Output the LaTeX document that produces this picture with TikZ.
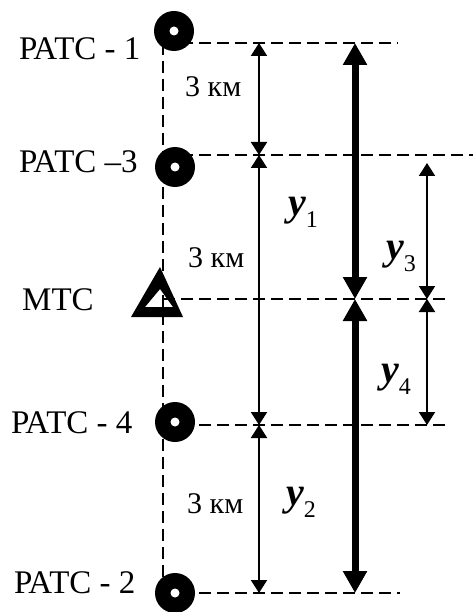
\documentclass[tikz,border=0pt]{standalone}
\usepackage{fontspec}
\setmainfont{Liberation Serif}
\usetikzlibrary{arrows.meta,calc}
\tikzset{
  ratc/.style={
    circle, fill=black, minimum size=40pt, inner sep=0pt,
    path picture={\fill[white] (path picture bounding box.center) circle (4.5pt);}
  },
  guide/.style={line width=2pt, dash pattern=on 12pt off 6pt},
  station/.style={font=\fontsize{33}{33}\selectfont, inner sep=0pt, anchor=base west},
  dist/.style={font=\fontsize{30}{30}\selectfont, inner sep=0pt, anchor=base west},
  yvar/.style={inner sep=0pt, anchor=base west},
  dim/.style={{Triangle[width=16pt,length=13pt]}-{Triangle[width=16pt,length=13pt]}, line width=2pt},
  bigdim/.style={{Triangle[width=23pt,length=22pt]}-{Triangle[width=23pt,length=22pt]}, line width=7pt}
}
\newcommand{\yname}[1]{{\fontsize{40}{40}\selectfont\bfseries\itshape y}\raisebox{-12pt}{\fontsize{24}{24}\selectfont #1}}

\begin{document}
\begin{tikzpicture}[x=1pt, y=-1pt]
        \useasboundingbox (0,0) rectangle (473,612);
        \coordinate (l1) at (163,43);
        \coordinate (l2) at (163,155);
        \coordinate (l3) at (163,299);
        \coordinate (l4) at (163,425);
        \coordinate (l5) at (163,593);
        \coordinate (e1) at (398,43);
        \coordinate (e2) at (473,155);
        \coordinate (e3) at (450,299);
        \coordinate (e4) at (450,425);
        \coordinate (e5) at (400,593);
        \coordinate (c1) at (259,0);
        \coordinate (c2) at (355,0);
        \coordinate (c3) at (427,0);
        \coordinate (y3top) at (427,163);
        % MTC mark
        \fill[even odd rule] (131,317) -- (183,317) -- (160,267) -- cycle
          (145,307) -- (173,307) -- (160,289) -- cycle;
        \draw[guide] (l1) -- (l5);
        \draw[guide] (l1) -- (e1);
        \draw[guide] (l2) -- (e2);
        \draw[guide] (l3) -- (e3);
        \draw[guide] (l4) -- (e4);
        \draw[guide] (l5) -- (e5);
        \node[ratc] (r1) at (174,31) {};
        \node[ratc] (r3) at (175,167) {};
        \node[ratc] (r4) at (175,422) {};
        \node[ratc] (r2) at (175,593) {};
        \node[station] (t1) at (19,60) {РАТС - 1};
        \node[station] (t3) at (19,173) {РАТС –3};
        \node[station] (tm) at (22,310) {МТС};
        \node[station] (t4) at (11,433) {РАТС - 4};
        \node[station] (t2) at (14,593) {РАТС - 2};
        \node[dist] (d1) at (185,97) {3 км};
        \node[dist] (d2) at (188,267) {3 км};
        \node[dist] (d3) at (187,513) {3 км};
        \draw[dim] (l1 -| c1) -- (l2 -| c1);
        \draw[dim] (l2 -| c1) -- (l4 -| c1);
        \draw[dim] (l4 -| c1) -- (l5 -| c1);
        \draw[bigdim] (l1 -| c2) -- (l3 -| c2);
        \draw[bigdim] (l3 -| c2) -- (l5 -| c2);
        \draw[dim] (y3top) -- (l3 -| c3);
        \draw[dim] (l3 -| c3) -- (l4 -| c3);
        \node[yvar] (y1) at (288,215) {\yname{1}};
        \node[yvar] (y3) at (386,259) {\yname{3}};
        \node[yvar] (y4) at (381,382) {\yname{4}};
        \node[yvar] (y2) at (286,505) {\yname{2}};
      \end{tikzpicture}
\end{document}
